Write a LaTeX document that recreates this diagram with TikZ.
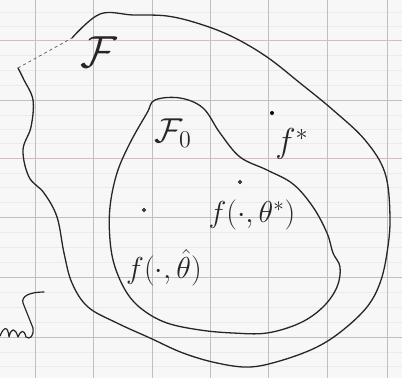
\documentclass[tikz,border=0pt]{standalone}
\usepackage{amsmath}
\begin{document}
\begin{tikzpicture}[x=1pt,y=-1pt,
  gridmajor/.style={draw=black!25,line width=0.7pt},
  gridminor/.style={draw=black!8,line width=0.5pt},
  gridred/.style={draw=red!25!black!25,line width=0.7pt},
  curve/.style={draw=black!85,line width=1.3pt,line cap=round,line join=round},
  lbl/.style={inner sep=0pt,text=black!85,font=\LARGE}]
\useasboundingbox (0,0) rectangle (402,378);
\fill[black!3] (0,0) rectangle (402,378);
% minor grid
\foreach \y in {12,26,55,70,85,115,129,143,173,187,202,232,247,262,292,307,322,352,366}
  \draw[gridminor] (0,\y) -- (402,\y);
% major grid
\foreach \x in {35,93,152,210,268,327,387}
  \draw[gridmajor] (\x,0) -- (\x,378);
\foreach \y in {100,217,277,337}
  \draw[gridmajor] (0,\y) -- (402,\y);
\foreach \y in {40,158}
  \draw[gridred] (0,\y) -- (402,\y);
% outer set F
\draw[curve] plot[smooth,tension=0.6] coordinates {(72,38) (100,14) (133,15) (167,16) (200,24) (233,37) (267,57) (300,83) (333,110) (365,140) (385,173) (390,217) (387,253) (380,283) (367,307) (343,330) (317,347) (283,360) (250,367) (217,363) (183,353) (150,338) (117,323) (88,307) (72,283) (64,253) (57,217) (44,193) (29,177) (23,150) (31,127) (33,100) (24,80) (18,68)};
\draw[black!60,line width=0.8pt,dashed] (18,68) -- (72,38);
% inner set F0
\draw[curve] plot[smooth cycle,tension=0.6] coordinates {(155,100) (180,98) (203,108) (220,133) (240,157) (267,170) (293,184) (313,207) (327,233) (333,253) (340,267) (337,287) (323,307) (300,323) (267,333) (233,333) (200,330) (167,323) (143,310) (127,293) (115,267) (110,240) (110,207) (117,173) (130,143) (147,113)};
% labels
\node[lbl,scale=2.6] (F) at (99,52) {$\mathcal{F}$};
\node[lbl,scale=2.0] (F0) at (173,133) {$\mathcal{F}_0$};
\fill[black] (272,113) circle (2pt) coordinate (fstar);
\node[lbl,scale=2.0] (fstarlbl) at (292,144) {$f^{*}$};
\draw[black,line width=0.8pt] (240,182) circle (1.5pt) coordinate (ftheta);
\node[lbl,scale=1.75] (fthetalbl) at (252,215) {$f(\cdot,\theta^{*})$};
\draw[black,line width=0.8pt] (144,210) circle (1.5pt) coordinate (fhat);
\node[lbl,scale=1.75] (fhatlbl) at (164,268) {$f(\cdot,\hat\theta)$};
% cropped scribble at bottom left
\draw[curve,line width=1.2pt] (0,336) .. controls (4,326) and (8,326) .. (9,337)
  .. controls (11,328) and (15,327) .. (18,337) .. controls (21,330) and (24,329) .. (26,337)
  .. controls (30,340) and (34,336) .. (33,328) -- (23,303) .. controls (21,296) and (30,292) .. (44,292);
\end{tikzpicture}
\end{document}
